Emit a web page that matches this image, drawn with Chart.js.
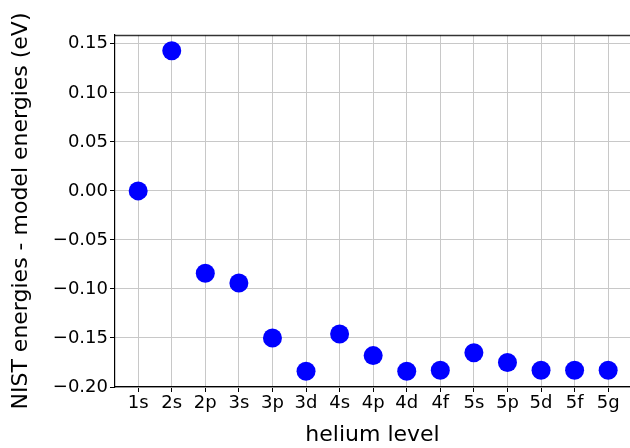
<!DOCTYPE html>
<html lang="en">
<head>
    <meta charset="UTF-8">
    <title>helium level energies</title>
    <style>
        html, body {
            margin: 0;
            padding: 0;
            background: #fff;
            overflow: hidden;
        }
        #chart {
            display: block;
        }
    </style>
    <script src="https://cdn.jsdelivr.net/npm/chart.js"></script>
</head>
<body>
    <canvas id="chart" width="630" height="448"></canvas>

    <script>
        // helium levels along the x axis
        const levels = ['1s', '2s', '2p', '3s', '3p', '3d', '4s', '4p', '4d', '4f', '5s', '5p', '5d', '5f', '5g'];
        // NIST energies - model energies (eV)
        const energyDiff = [0.000, 0.143, -0.084, -0.094, -0.150, -0.184, -0.146, -0.168, -0.184, -0.183, -0.165, -0.175, -0.183, -0.183, -0.183];
        const yTicks = [-0.20, -0.15, -0.10, -0.05, 0.00, 0.05, 0.10, 0.15];

        const font = "'DejaVu Sans', sans-serif";

        function fmtTick(v) {
            const s = Math.abs(v).toFixed(2);
            return (v < -1e-9 ? '\u2212' : '') + s;
        }

        // matplotlib style top spine
        const topSpine = {
            id: 'topSpine',
            afterDatasetsDraw(chart) {
                const a = chart.chartArea;
                const ctx = chart.ctx;
                ctx.save();
                ctx.strokeStyle = 'rgba(0,0,0,0.8)';
                ctx.lineWidth = 1.3;
                ctx.beginPath();
                ctx.moveTo(a.left, a.top + 0.5);
                ctx.lineTo(a.right, a.top + 0.5);
                ctx.stroke();
                ctx.restore();
            }
        };

        new Chart(document.getElementById('chart').getContext('2d'), {
            type: 'scatter',
            data: {
                datasets: [{
                    data: energyDiff.map((v, i) => ({ x: i, y: v })),
                    backgroundColor: '#0000ff',
                    borderWidth: 0,
                    pointRadius: 9.5,
                    pointHoverRadius: 9.5
                }]
            },
            options: {
                responsive: false,
                animation: false,
                events: [],
                layout: {
                    autoPadding: false,
                    padding: { top: 35, right: 0, left: 0, bottom: 0 }
                },
                plugins: {
                    legend: { display: false },
                    tooltip: { enabled: false }
                },
                scales: {
                    x: {
                        type: 'linear',
                        min: -0.69,
                        max: 14.65,
                        afterFit(scale) {
                            scale.height = 61;
                            scale.paddingLeft = 0;
                            scale.paddingRight = 0;
                        },
                        afterBuildTicks(scale) {
                            scale.ticks = levels.map((l, i) => ({ value: i }));
                        },
                        ticks: {
                            color: '#000',
                            padding: 1,
                            maxRotation: 0,
                            autoSkip: false,
                            font: { family: font, size: 18 },
                            callback: (v) => levels[v]
                        },
                        grid: {
                            color: '#c8c8c8',
                            lineWidth: 1,
                            tickColor: '#000',
                            tickLength: 5
                        },
                        border: { color: '#000', width: 1.2 },
                        title: {
                            display: true,
                            text: 'helium level',
                            color: '#000',
                            padding: { top: 0, bottom: 0 },
                            font: { family: font, size: 22 }
                        }
                    },
                    y: {
                        min: -0.20,
                        max: 0.159,
                        afterFit(scale) {
                            scale.width = 115;
                            scale.paddingTop = 0;
                            scale.paddingBottom = 0;
                        },
                        afterBuildTicks(scale) {
                            scale.ticks = yTicks.map(v => ({ value: v }));
                        },
                        ticks: {
                            color: '#000',
                            padding: 2,
                            font: { family: font, size: 18 },
                            callback: (v) => fmtTick(v)
                        },
                        grid: {
                            color: '#c8c8c8',
                            lineWidth: 1,
                            tickColor: '#000',
                            tickLength: 5
                        },
                        border: { color: '#000', width: 1.2 },
                        title: {
                            display: true,
                            text: 'NIST energies - model energies (eV)',
                            color: '#000',
                            padding: { top: 8, bottom: 0 },
                            font: { family: font, size: 22 }
                        }
                    }
                }
            },
            plugins: [topSpine]
        });
    </script>
</body>
</html>
